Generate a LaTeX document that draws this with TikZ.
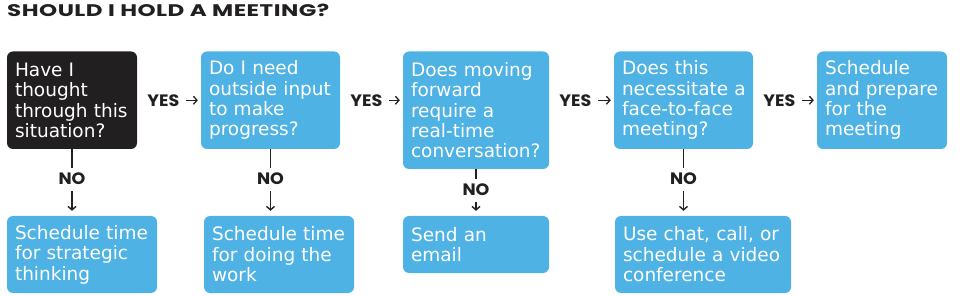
\documentclass[tikz,border=0pt]{standalone}
\usepackage{fontspec}
\usetikzlibrary{arrows.meta}
\newfontfamily\titlefont{Poppins}[FakeStretch=1.37, LetterSpace=3]
\newfontfamily\labfont{Poppins}[FakeStretch=1.06]
\newfontfamily\bodyfont{DejaVu Sans}
\definecolor{hbrblue}{RGB}{78,178,229}
\definecolor{hbrblack}{RGB}{34,31,32}
\tikzset{
  qbox/.style={rounded corners=6pt, fill=hbrblue, text=white, align=left,
    inner xsep=8pt, inner ysep=0pt,
    font=\bodyfont\fontsize{18.5}{20.4}\selectfont},
  darkbox/.style={qbox, fill=hbrblack},
  yesarr/.style={-{Straight Barb[length=3.5pt,width=8pt]}, line width=1.3pt,
    draw=hbrblack, shorten <=49pt, shorten >=3pt},
  yeslab/.style={pos=0, anchor=west, xshift=9.5pt, yshift=-0.8pt, inner sep=0pt, text=hbrblack,
    font=\labfont\bfseries\fontsize{16.5}{18}\selectfont},
  noarr/.style={-{Straight Barb[length=3.5pt,width=8pt]}, line width=1.4pt,
    draw=hbrblack, shorten >=5pt},
  nolab/.style={pos=0.45, fill=white, text=hbrblack, inner xsep=2pt, inner ysep=5.5pt,
    font=\labfont\bfseries\fontsize{16.5}{18}\selectfont},
}
\begin{document}
\begin{tikzpicture}[x=1pt,y=-1pt]
\useasboundingbox (0,0) rectangle (960,296);
\node[anchor=base west, inner sep=0pt, text=hbrblack,
  font=\titlefont\bfseries\fontsize{16.8}{18}\selectfont] (title) at (7,17) {SHOULD I HOLD A MEETING?};
% top row
\node[darkbox, text width=114pt, minimum height=97.5pt] (b1) at (72,100.25)
  {Have I\\thought\\through this\\situation?};
\node[qbox, text width=123pt, minimum height=97.5pt] (b2) at (270.5,100.25)
  {Do I need\\outside input\\to make\\progress?};
\node[qbox, text width=130pt, minimum height=117.5pt] (b3) at (476,110.25)
  {Does moving\\forward\\require a\\real-time\\conversation?};
\node[qbox, text width=123pt, minimum height=97.5pt] (b4) at (683.5,100.25)
  {Does this\\necessitate~a\\face-to-face\\meeting?};
\node[qbox, text width=114pt, minimum height=97.5pt] (b5) at (882,100.25)
  {Schedule\\and prepare\\for the\\meeting};
% bottom row
\node[qbox, text width=134pt, minimum height=77pt] (c1) at (82,254.5)
  {Schedule time\\for strategic\\thinking};
\node[qbox, text width=134pt, minimum height=77pt] (c2) at (279,254.5)
  {Schedule time\\for doing the\\work};
\node[qbox, text width=130pt, minimum height=57pt] (c3) at (476,244.5)
  {Send an\\email};
\node[qbox, text width=160pt, minimum height=77pt] (c4) at (703,254.5)
  {Use chat, call, or\\schedule a video\\conference};
% YES connectors
\draw[yesarr] (b1.east) -- node[yeslab]{YES} (b2.west);
\draw[yesarr] (b2.east) -- node[yeslab]{YES} (b2.east -| b3.west);
\draw[yesarr] (b4.west -| b3.east) -- node[yeslab]{YES} (b4.west);
\draw[yesarr] (b4.east) -- node[yeslab]{YES} (b5.west);
% NO connectors
\draw[noarr] (b1.south) -- node[nolab]{NO} (b1.south |- c1.north);
\draw[noarr] (b2.south) -- node[nolab]{NO} (b2.south |- c2.north);
\draw[noarr] (b3.south) -- node[nolab]{NO} (b3.south |- c3.north);
\draw[noarr] (b4.south) -- node[nolab]{NO} (b4.south |- c4.north);
\end{tikzpicture}
\end{document}
